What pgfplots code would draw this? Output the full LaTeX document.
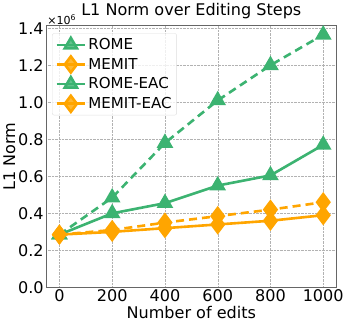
\documentclass[border=0pt]{standalone}
\usepackage{fontspec}
\setmainfont{DejaVu Sans}
\usepackage{pgfplots}
\pgfplotsset{compat=1.18}
\definecolor{cgreen}{RGB}{60,179,113}
\definecolor{corange}{RGB}{255,165,0}
\begin{document}
\begin{tikzpicture}
\begin{axis}[
  scale only axis, width=288bp, height=260bp,
  xmin=-50, xmax=1050, ymin=0, ymax=1.415,
  xtick={0,200,400,600,800,1000},
  ytick={0,0.2,0.4,0.6,0.8,1.0,1.2,1.4},
  xticklabel style={/pgf/number format/set thousands separator={}, yshift=1pt},
  yticklabel style={/pgf/number format/fixed, /pgf/number format/fixed zerofill, /pgf/number format/precision=1, xshift=1pt},
  /pgf/number format/assume math mode=true,
  tick label style={font=\fontsize{16}{18}\selectfont},
  label style={font=\fontsize{16}{18}\selectfont},
  title style={font=\fontsize{16}{18}\selectfont, yshift=-3pt},
  title={L1 Norm over Editing Steps},
  xlabel={Number of edits}, ylabel={L1 Norm},
  xlabel style={yshift=3pt}, ylabel style={yshift=-4pt},
  grid=major, grid style={densely dotted, gray!60, line width=0.4pt},
  axis line style={gray!80!black, line width=0.6pt},
  tick style={draw=none},
  legend style={font=\fontsize{15}{17}\selectfont, draw=gray!25, rounded corners=2pt, fill=white, fill opacity=0.8, text opacity=1, at={(0.02,0.97)}, anchor=north west, row sep=3pt, inner sep=3pt},
  legend cell align=left,
  every axis plot/.append style={line width=2.6pt},
  legend image code/.code={\draw[mark repeat=2,mark phase=2] plot coordinates {(0cm,0cm)(0.5cm,0cm)(1.0cm,0cm)};},
  clip=false,
]
\addplot[color=cgreen, dashed, dash pattern=on 8pt off 5pt, mark=triangle*, mark size=7pt, mark options={solid}, legend image post style={solid}]
  coordinates {(0,0.285)(200,0.485)(400,0.78)(600,1.01)(800,1.20)(1000,1.365)};
\addlegendentry{ROME}
\addplot[color=corange, dashed, dash pattern=on 8pt off 5pt, mark=diamond*, mark size=8pt, mark options={solid}, legend image post style={solid}]
  coordinates {(0,0.285)(200,0.31)(400,0.35)(600,0.385)(800,0.42)(1000,0.46)};
\addlegendentry{MEMIT}
\addplot[color=cgreen, mark=triangle*, mark size=7pt]
  coordinates {(0,0.285)(200,0.40)(400,0.455)(600,0.55)(800,0.605)(1000,0.77)};
\addlegendentry{ROME-EAC}
\addplot[color=corange, mark=diamond*, mark size=8pt]
  coordinates {(0,0.285)(200,0.30)(400,0.32)(600,0.34)(800,0.36)(1000,0.39)};
\addlegendentry{MEMIT-EAC}
\node[anchor=south west, inner sep=1pt, font=\fontsize{11}{12}\selectfont] at (rel axis cs:0,1) {×10\textsuperscript{6}};
\end{axis}
\end{tikzpicture}
\end{document}
